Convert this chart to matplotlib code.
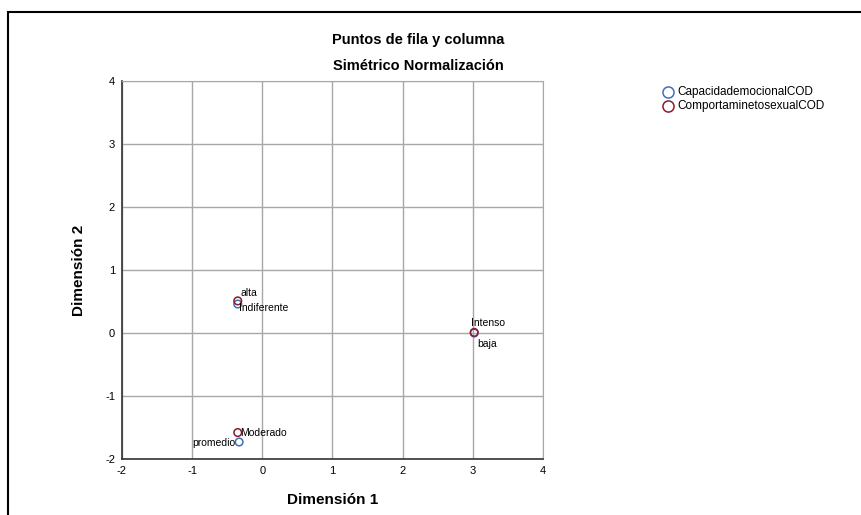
import matplotlib.pyplot as plt
from matplotlib.patches import Rectangle

plt.rcParams['font.family'] = ['Liberation Sans', 'DejaVu Sans']
plt.rcParams['axes.unicode_minus'] = False

# CapacidademocionalCOD (blue)
cap_labels = ["alta", "baja", "promedio"]
cap_x = [-0.35, 3.02, -0.33]
cap_y = [0.46, 0.00, -1.73]

# ComportaminetosexualCOD (red)
comp_labels = ["Indiferente", "Intenso", "Moderado"]
comp_x = [-0.35, 3.02, -0.35]
comp_y = [0.51, 0.01, -1.58]

xticks = [-2, -1, 0, 1, 2, 3, 4]
yticks = [-2, -1, 0, 1, 2, 3, 4]

blue = "#3f6fc0"
red = "#8b1a2b"

fig = plt.figure(figsize=(8.62, 5.15), dpi=100)
ax = fig.add_axes([0.1415, 0.1087, 0.4884, 0.734])

ax.scatter(cap_x, cap_y, s=30, facecolors="none", edgecolors=blue, linewidths=1.1, zorder=3)
ax.scatter(comp_x, comp_y, s=30, facecolors="none", edgecolors=red, linewidths=1.1, zorder=4)

# label offsets (points), like SPSS places them
cap_off = [(2, 8), (2, -8), (-3, -1)]
cap_ha = ["left", "left", "right"]
comp_off = [(1, -5), (-2, 7), (2, 0)]
comp_ha = ["left", "left", "left"]
for lab, x, y, off, ha in zip(cap_labels, cap_x, cap_y, cap_off, cap_ha):
    ax.annotate(lab, (x, y), xytext=off, textcoords="offset points",
                ha=ha, va="center", fontsize=7.5, zorder=5)
for lab, x, y, off, ha in zip(comp_labels, comp_x, comp_y, comp_off, comp_ha):
    ax.annotate(lab, (x, y), xytext=off, textcoords="offset points",
                ha=ha, va="center", fontsize=7.5, zorder=5)

ax.set_xlim(-2, 4)
ax.set_ylim(-2, 4)
ax.set_xticks(xticks)
ax.set_yticks(yticks)
ax.tick_params(length=0, labelsize=8, pad=5)
ax.grid(True, color="#a8a8a8", linewidth=1)
ax.set_axisbelow(True)
for s in ["top", "right"]:
    ax.spines[s].set_color("#a8a8a8")
for s in ["left", "bottom"]:
    ax.spines[s].set_color("#333333")
    ax.spines[s].set_linewidth(1.2)

ax.set_xlabel("Dimensión 1", fontsize=11, fontweight="bold", labelpad=12)
ax.set_ylabel("Dimensión 2", fontsize=11, fontweight="bold", labelpad=14)

fig.text(0.485, 0.922, "Puntos de fila y columna", ha="center", va="center",
         fontsize=10.5, fontweight="bold")
fig.text(0.485, 0.872, "Simétrico Normalización", ha="center", va="center",
         fontsize=10.5, fontweight="bold")

# legend
fig.lines.append(plt.Line2D([0.7755], [0.822], marker="o", ms=8, mfc="none",
                            mec=blue, mew=1.1, transform=fig.transFigure))
fig.lines.append(plt.Line2D([0.7755], [0.795], marker="o", ms=8, mfc="none",
                            mec=red, mew=1.1, transform=fig.transFigure))
fig.text(0.786, 0.822, "CapacidademocionalCOD", va="center", fontsize=8.5)
fig.text(0.786, 0.795, "ComportaminetosexualCOD", va="center", fontsize=8.5)

# outer frame
fig.patches.append(Rectangle((8 / 862, -0.1), 1.1, (515 - 12) / 515 + 0.1,
                             fill=False, edgecolor="black", linewidth=1.5,
                             transform=fig.transFigure, figure=fig))

fig.savefig("out.png", dpi=100)
